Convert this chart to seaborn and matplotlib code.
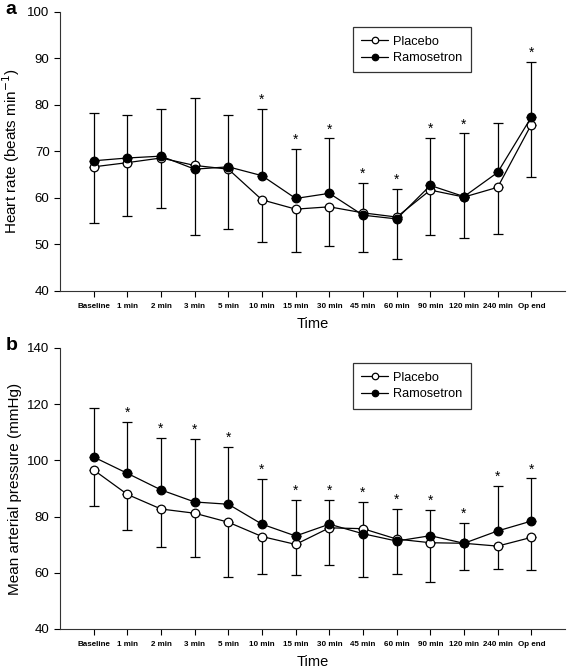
import matplotlib
matplotlib.use('Agg')
import matplotlib.pyplot as plt
import seaborn as sns
import numpy as np
import pandas as pd

# time points
times = ['Baseline', '1 min', '2 min', '3 min', '5 min', '10 min', '15 min',
         '30 min', '45 min', '60 min', '90 min', '120 min', '240 min', 'Op end']

# heart rate (beats/min)
hr_placebo = [66.7, 67.6, 68.6, 67.0, 66.2, 59.6, 57.6, 58.1, 56.8, 55.9, 61.7, 60.2, 62.3, 75.8]
hr_placebo_sd = [12.1, 11.5, 10.7, 15.0, 12.9, 9.0, 9.3, 8.4, 8.5, 9.1, 9.7, 8.7, 10.0, 11.3]
hr_ramosetron = [68.0, 68.6, 69.0, 66.2, 66.7, 64.8, 59.9, 61.0, 56.3, 55.5, 62.7, 60.3, 65.5, 77.4]
hr_ramosetron_sd = [10.3, 9.2, 10.1, 15.4, 11.1, 14.4, 10.6, 11.8, 7.0, 6.5, 10.3, 13.6, 10.6, 11.9]
hr_signif = [5, 6, 7, 8, 9, 10, 11, 13]

# mean arterial pressure (mmHg)
map_placebo = [96.6, 87.9, 82.7, 81.2, 78.0, 72.9, 70.1, 76.0, 75.7, 72.0, 70.7, 70.5, 69.5, 72.6]
map_placebo_sd = [12.9, 12.7, 13.6, 15.7, 19.4, 13.2, 11.0, 13.1, 17.1, 12.5, 13.9, 9.5, 8.0, 11.6]
map_ramosetron = [101.2, 95.4, 89.5, 85.2, 84.4, 77.3, 73.1, 77.3, 73.9, 71.3, 73.2, 70.5, 74.9, 78.4]
map_ramosetron_sd = [17.4, 18.3, 18.6, 22.4, 20.3, 16.1, 12.7, 8.6, 11.4, 11.4, 9.1, 7.3, 16.1, 15.2]
map_signif = [1, 2, 3, 4, 5, 6, 7, 8, 9, 10, 11, 12, 13]

sns.set_style('ticks')
plt.rcParams['font.family'] = ['Liberation Sans', 'DejaVu Sans']
plt.rcParams['text.color'] = 'black'
plt.rcParams['axes.labelcolor'] = 'black'
plt.rcParams['xtick.color'] = 'black'
plt.rcParams['ytick.color'] = 'black'


def draw_panel(ax, plc, plc_sd, ram, ram_sd, signif, ylim, yticks, ylabel, letter):
    x = np.arange(len(times))
    df = pd.DataFrame({'x': x, 'plc': plc, 'ram': ram})
    plc = np.array(plc)
    ram = np.array(ram)
    upper = ram + np.array(ram_sd)
    # error bars: ramosetron up, placebo down
    ax.errorbar(x, ram, yerr=[np.zeros(len(x)), ram_sd], fmt='none',
                ecolor='black', elinewidth=0.9, capsize=3.5, capthick=0.9, zorder=1)
    ax.errorbar(x, plc, yerr=[plc_sd, np.zeros(len(x))], fmt='none',
                ecolor='black', elinewidth=0.9, capsize=3.5, capthick=0.9, zorder=1)
    sns.lineplot(data=df, x='x', y='plc', ax=ax, color='black', lw=0.9,
                 marker='o', markersize=6.2, markerfacecolor='white',
                 markeredgecolor='black', markeredgewidth=0.9, label='Placebo', zorder=3)
    sns.lineplot(data=df, x='x', y='ram', ax=ax, color='black', lw=0.9,
                 marker='o', markersize=6.2, markerfacecolor='black',
                 markeredgecolor='black', markeredgewidth=0.9, label='Ramosetron', zorder=4)
    for i in signif:
        ax.annotate('*', (x[i], upper[i]), xytext=(0, 6.5), textcoords='offset points',
                    ha='center', va='center', fontsize=10)
    ax.set_xlim(-1, 14)
    ax.set_ylim(*ylim)
    ax.set_yticks(yticks)
    ax.set_xticks(x)
    ax.set_xticklabels(times, fontsize=5.8, fontweight='bold')
    ax.tick_params(axis='y', labelsize=9.5, direction='out', length=4, width=0.8)
    ax.tick_params(axis='x', direction='out', length=4, width=0.8, pad=5)
    ax.set_xlabel('Time', fontsize=10.5)
    ax.xaxis.set_label_coords(0.5, -0.092)
    ax.set_ylabel(ylabel, fontsize=11)
    ax.yaxis.set_label_coords(-0.075, 0.5)
    sns.despine(ax=ax)
    for s in ['left', 'bottom']:
        ax.spines[s].set_linewidth(0.8)
        ax.spines[s].set_color('#333333')
    leg = ax.legend(loc='upper left', bbox_to_anchor=(0.58, 0.945), fontsize=9.2,
                    frameon=True, fancybox=False, edgecolor='black', handlelength=2.1,
                    borderpad=0.65, labelspacing=0.35, handletextpad=0.4,
                    borderaxespad=0, markerscale=0.75)
    leg.get_frame().set_linewidth(0.9)
    ax.text(-0.108, 1.01, letter, transform=ax.transAxes, fontsize=14,
            fontweight='bold', va='center', ha='left')


fig = plt.figure(figsize=(5.67, 6.70), dpi=100)
ax1 = fig.add_axes([0.1058, 0.5657, 0.8907, 0.4164])
ax2 = fig.add_axes([0.1058, 0.0612, 0.8907, 0.4194])

draw_panel(ax1, hr_placebo, hr_placebo_sd, hr_ramosetron, hr_ramosetron_sd, hr_signif,
           (40, 100), range(40, 101, 10), 'Heart rate (beats min$^{-1}$)', 'a')
draw_panel(ax2, map_placebo, map_placebo_sd, map_ramosetron, map_ramosetron_sd, map_signif,
           (40, 140), range(40, 141, 20), 'Mean arterial pressure (mmHg)', 'b')

fig.savefig('out.png', dpi=100)
